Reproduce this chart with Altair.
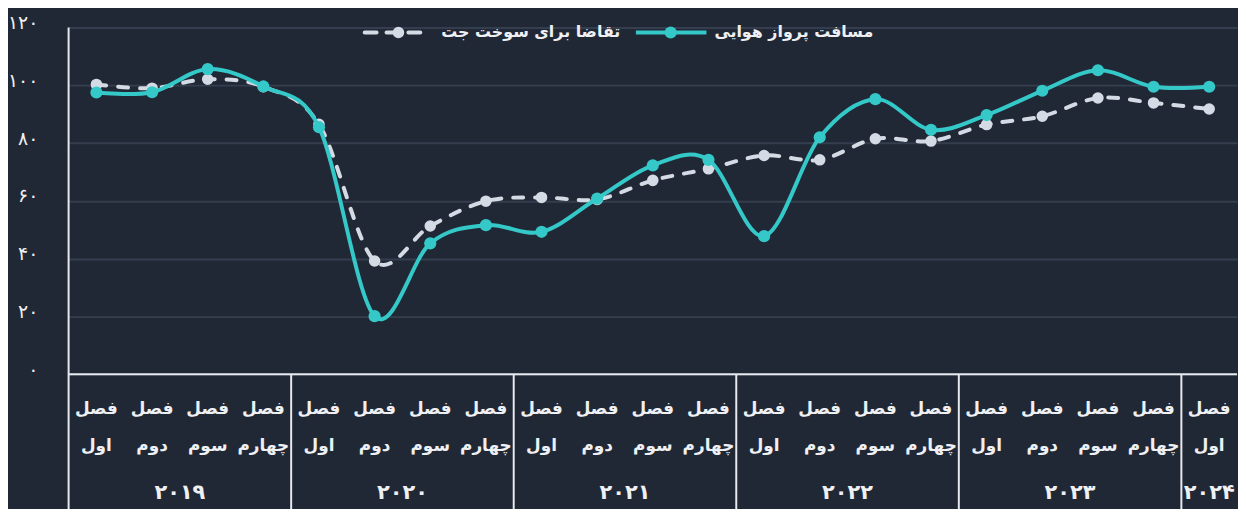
import altair as alt
import pandas as pd

# ---------------- data ----------------
year_labels = ["۲۰۱۹", "۲۰۲۰", "۲۰۲۱", "۲۰۲۲", "۲۰۲۳", "۲۰۲۴"]
quarters_per_year = [4, 4, 4, 4, 4, 1]
quarter_names = ["اول", "دوم", "سوم", "چهارم"]
season_word = "فصل"

series_air = "مسافت پرواز هوایی"
series_fuel = "تقاضا برای سوخت جت"

air_distance = [97.5, 97.6, 105.6, 99.6, 85.5, 20.1, 45.3, 51.6, 49.3, 60.8, 72.3,
                74.2, 47.8, 82.0, 95.2, 84.6, 89.7, 98.1, 105.2, 99.5, 99.5]
jet_fuel = [100.3, 99.0, 102.1, 99.5, 86.5, 39.2, 51.3, 59.9, 61.2, 60.5, 67.1,
            71.1, 75.7, 74.2, 81.5, 80.7, 86.4, 89.3, 95.6, 93.9, 91.8]

y_ticks = [0, 20, 40, 60, 80, 100, 120]
y_tick_labels = ["۰", "۲۰", "۴۰", "۶۰", "۸۰", "۱۰۰", "۱۲۰"]

# ---------------- style ----------------
BG = "#212835"
GRID = "#353e4e"
LINE_W = "#e6e9ee"
TEAL = "#34c8c9"
GRAY = "#d5dbe4"
TXT = "#eef0f3"
FONT = "DejaVu Sans"

W, H = 1176, 349

# ---------------- tables ----------------
quarters = []
years_rows = []
idx = 0
for yl, nq in zip(year_labels, quarters_per_year):
    start = idx
    for q in range(nq):
        quarters.append({"i": idx, "label": season_word + "\n" + quarter_names[q]})
        idx += 1
    years_rows.append({"year": yl, "mid": (start + idx - 1) / 2, "start": start - 0.5})
n = idx

df_q = pd.DataFrame(quarters)
df_y = pd.DataFrame(years_rows)
df_sep = df_y[df_y["start"] > 0]

df_air = pd.DataFrame({"i": list(range(n)), "v": air_distance})
df_fuel = pd.DataFrame({"i": list(range(n)), "v": jet_fuel})

xs = alt.Scale(domain=[-0.5, n - 0.5], nice=False, zero=False)
ys = alt.Scale(domain=[0, 120], nice=False)

label_expr = " : ".join(
    f"datum.value == {v} ? '{l}'" for v, l in zip(y_ticks, y_tick_labels)
) + " : ''"

X = alt.X("i:Q", scale=xs, axis=None)
Y = alt.Y("v:Q", scale=ys, axis=alt.Axis(
    values=y_ticks, labelExpr=label_expr, domain=False, ticks=False,
    grid=True, gridColor=GRID, gridWidth=2, labelColor=TXT, labelFontSize=19,
    labelFont=FONT, labelPadding=31, labelOffset=-5, title=None))

fuel_line = alt.Chart(df_fuel).mark_line(
    interpolate="cardinal", color=GRAY, strokeWidth=4, strokeDash=[10, 12],
    strokeCap="round").encode(x=X, y=Y)
fuel_pts = alt.Chart(df_fuel).mark_circle(size=135, color=GRAY, opacity=1).encode(x=X, y=Y)
air_line = alt.Chart(df_air).mark_line(
    interpolate="cardinal", color=TEAL, strokeWidth=4).encode(x=X, y=Y)
air_pts = alt.Chart(df_air).mark_circle(size=150, color=TEAL, opacity=1).encode(x=X, y=Y)

one = pd.DataFrame({"k": [0]})

# table lines
left_line = alt.Chart(one).mark_rule(color=LINE_W, strokeWidth=2).encode(
    x=alt.value(0), y=alt.value(0), y2=alt.value(H + 160))
base_line = alt.Chart(one).mark_rule(color=LINE_W, strokeWidth=2).encode(
    x=alt.value(0), x2=alt.value(W), y=alt.value(H))
seps = alt.Chart(df_sep).mark_rule(color=LINE_W, strokeWidth=2).encode(
    x=alt.X("start:Q", scale=xs, axis=None), y=alt.value(H), y2=alt.value(H + 160))

q_text = alt.Chart(df_q).mark_text(
    font=FONT, fontSize=17, fontWeight="bold", color=TXT, lineBreak="\n",
    lineHeight=37, baseline="middle", align="center").encode(
    x=alt.X("i:Q", scale=xs, axis=None), y=alt.value(H + 35), text="label:N")
y_text = alt.Chart(df_y).mark_text(
    font=FONT, fontSize=21, fontWeight="bold", color=TXT, baseline="middle",
    align="center").encode(
    x=alt.X("mid:Q", scale=xs, axis=None), y=alt.value(H + 120), text="year:N")

# legend (manual, RTL style: symbol left of text)
LY = 5
leg = [
    alt.Chart(one).mark_rule(color=TEAL, strokeWidth=4).encode(
        x=alt.value(571), x2=alt.value(642), y=alt.value(LY)),
    alt.Chart(one).mark_circle(color=TEAL, size=150, opacity=1).encode(
        x=alt.value(606), y=alt.value(LY)),
    alt.Chart(one).mark_text(font=FONT, fontSize=16, fontWeight="bold", color=TXT,
                             align="left", baseline="middle").encode(
        x=alt.value(650), y=alt.value(LY), text=alt.value(series_air)),
    alt.Chart(one).mark_rule(color=GRAY, strokeWidth=4, strokeDash=[12, 10],
                             strokeCap="round").encode(
        x=alt.value(298), x2=alt.value(360), y=alt.value(LY)),
    alt.Chart(one).mark_circle(color=GRAY, size=135, opacity=1).encode(
        x=alt.value(332), y=alt.value(LY)),
    alt.Chart(one).mark_text(font=FONT, fontSize=16, fontWeight="bold", color=TXT,
                             align="left", baseline="middle").encode(
        x=alt.value(375), y=alt.value(LY), text=alt.value(series_fuel)),
]

chart = alt.layer(
    fuel_line, fuel_pts, air_line, air_pts,
    left_line, base_line, seps, q_text, y_text, *leg
).properties(
    width=W, height=H,
    padding={"left": 61, "top": 18, "right": 1, "bottom": 134},
    autosize=alt.AutoSizeParams(type="none"),
    background=BG,
).configure_view(stroke=None)

chart.save("out.html", embed_options={"renderer": "svg", "actions": False})
